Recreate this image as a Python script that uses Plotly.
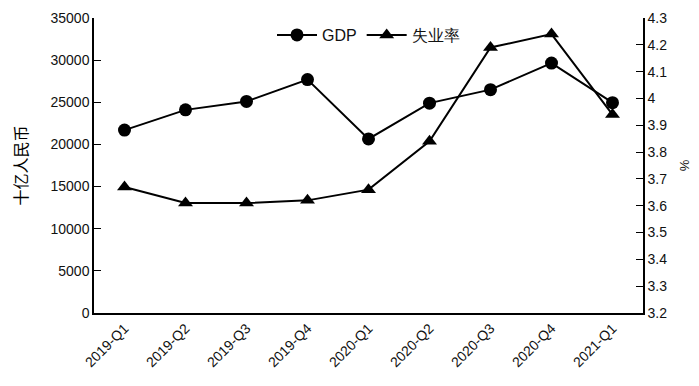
import plotly.graph_objects as go

quarters = ["2019-Q1", "2019-Q2", "2019-Q3", "2019-Q4", "2020-Q1",
            "2020-Q2", "2020-Q3", "2020-Q4", "2021-Q1"]
gdp = [21700, 24100, 25100, 27700, 20650, 24900, 26500, 29650, 24950]
unemployment = [3.67, 3.61, 3.61, 3.62, 3.66, 3.84, 4.19, 4.24, 3.94]

font_family = "Liberation Sans"

fig = go.Figure()
fig.add_trace(go.Scatter(
    x=quarters, y=gdp, name="GDP", mode="lines+markers",
    line=dict(color="black", width=2),
    marker=dict(symbol="circle", size=13, color="black"),
))
fig.add_trace(go.Scatter(
    x=quarters, y=unemployment, name="失业率", mode="lines+markers", yaxis="y2",
    line=dict(color="black", width=2),
    marker=dict(symbol="triangle-up", size=13, color="black"),
))

# page body has an 8px default margin, so the figure is sized/offset to compensate
fig.update_layout(
    width=691, height=378,
    margin=dict(l=86, r=56, t=10, b=73),
    paper_bgcolor="white", plot_bgcolor="white",
    font=dict(family=font_family, size=13, color="#111"),
    showlegend=True,
    legend=dict(orientation="h", x=0.5, xanchor="center", y=1.0, yanchor="top",
                bgcolor="rgba(0,0,0,0)", font=dict(size=16),
                itemwidth=40),
    xaxis=dict(
        type="category", range=[-0.5, 8.5], tickangle=-45, automargin=False,
        showline=True, linecolor="black", linewidth=1.5,
        ticks="", showgrid=False, tickfont=dict(size=14),
    ),
    yaxis=dict(
        range=[0, 35000], dtick=5000, showgrid=False, zeroline=False,
        automargin=False, tickformat="d",
        showline=True, linecolor="black", linewidth=1.5,
        ticks="inside", ticklen=7, tickcolor="black",
        tickfont=dict(size=14),
        title=dict(text="十亿人民币", font=dict(size=16, family="Noto Sans CJK SC", color="black"), standoff=26),
    ),
    yaxis2=dict(
        range=[3.2, 4.3], dtick=0.1, overlaying="y", side="right",
        showgrid=False, zeroline=False, automargin=False,
        showline=True, linecolor="black", linewidth=1.5,
        ticks="inside", ticklen=7, tickcolor="black",
        tickfont=dict(size=14), tickformat="~g",
        title=dict(text="%", font=dict(size=13), standoff=14),
    ),
)

fig.write_html("out.html")
